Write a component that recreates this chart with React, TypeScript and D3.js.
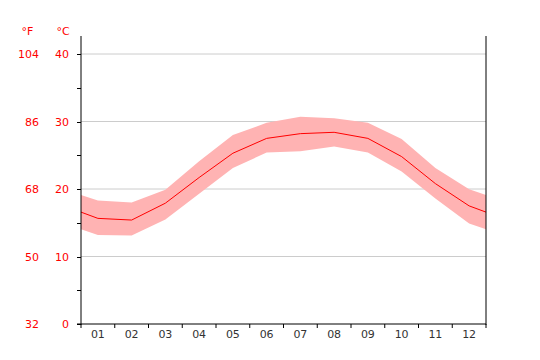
import React from "react";
import * as d3 from "d3";

const months = ["01", "02", "03", "04", "05", "06", "07", "08", "09", "10", "11", "12"];
const tMean = [15.65, 15.4, 17.9, 21.7, 25.3, 27.5, 28.2, 28.4, 27.5, 24.8, 20.8, 17.5];
const tHigh = [18.3, 18.0, 19.9, 24.1, 28.0, 29.8, 30.7, 30.5, 29.8, 27.4, 23.1, 19.95];
const tLow = [13.2, 13.1, 15.5, 19.3, 23.1, 25.4, 25.6, 26.3, 25.4, 22.6, 18.6, 14.9];
const cTicks = [0, 10, 20, 30, 40];
const fLabels = ["32", "50", "68", "86", "104"];
const minorTicks = [5, 15, 25, 35];

const W = 540, H = 360;
const left = 81, right = 486, top = 36, bottom = 324;

export default function App() {
  const x = d3.scaleBand<string>().domain(months).range([left, right]).padding(0);
  const y = d3.scaleLinear().domain([0, 40]).range([bottom, 54]);
  const cx = (i: number) => (x(months[i]) as number) + x.bandwidth() / 2;

  type P = { x: number; m: number; hi: number; lo: number };
  const n = months.length;
  const edge = (a: number[]) => (a[0] + a[n - 1]) / 2;
  const pts: P[] = [
    { x: left, m: edge(tMean), hi: edge(tHigh), lo: edge(tLow) },
    ...months.map((_, i) => ({ x: cx(i), m: tMean[i], hi: tHigh[i], lo: tLow[i] })),
    { x: right, m: edge(tMean), hi: edge(tHigh), lo: edge(tLow) },
  ];
  const area = d3.area<P>().x((d) => d.x).y0((d) => y(d.lo)).y1((d) => y(d.hi));
  const line = d3.line<P>().x((d) => d.x).y((d) => y(d.m));
  const font = "DejaVu Sans, sans-serif";

  return (
    <svg width={W} height={H} style={{ position: "absolute", left: 0, top: 0 }}>
      <rect width={W} height={H} fill="#fff" />
      {cTicks.filter((t) => t > 0).map((t) => (
        <line key={"g" + t} x1={left} x2={right} y1={y(t)} y2={y(t)} stroke="#cccccc" strokeWidth={1} />
      ))}
      <path d={area(pts) as string} fill="#ffb3b3" />
      <path d={line(pts) as string} fill="none" stroke="#ff0000" strokeWidth={1} />
      <line x1={left} x2={left} y1={top} y2={bottom + 1} stroke="#000" />
      <line x1={right} x2={right} y1={top} y2={bottom + 1} stroke="#000" />
      <line x1={left - 4} x2={right} y1={bottom} y2={bottom} stroke="#000" />
      {[...cTicks, ...minorTicks].map((t) => (
        <line key={"t" + t} x1={left - 4} x2={left} y1={Math.round(y(t)) + 0.5} y2={Math.round(y(t)) + 0.5} stroke="#000" />
      ))}
      {months.map((m, i) => (
        <line key={"bt" + i} x1={(x(m) as number)} x2={(x(m) as number)} y1={bottom} y2={bottom + 4} stroke="#000" />
      ))}
      <line x1={right} x2={right} y1={bottom} y2={bottom + 4} stroke="#000" />
      {months.map((m, i) => (
        <text key={"ml" + i} x={cx(i)} y={338} textAnchor="middle" fontSize={11} fontFamily={font} fill="#333">{m}</text>
      ))}
      {cTicks.map((t, i) => (
        <g key={"l" + t}>
          <text x={69} y={y(t) + 4} textAnchor="end" fontSize={11} fontFamily={font} fill="#ff0000">{t}</text>
          <text x={39} y={y(t) + 4} textAnchor="end" fontSize={11} fontFamily={font} fill="#ff0000">{fLabels[i]}</text>
        </g>
      ))}
      <text x={27.5} y={35} textAnchor="middle" fontSize={11} fontFamily={font} fill="#ff0000">°F</text>
      <text x={63} y={35} textAnchor="middle" fontSize={11} fontFamily={font} fill="#ff0000">°C</text>
    </svg>
  );
}
